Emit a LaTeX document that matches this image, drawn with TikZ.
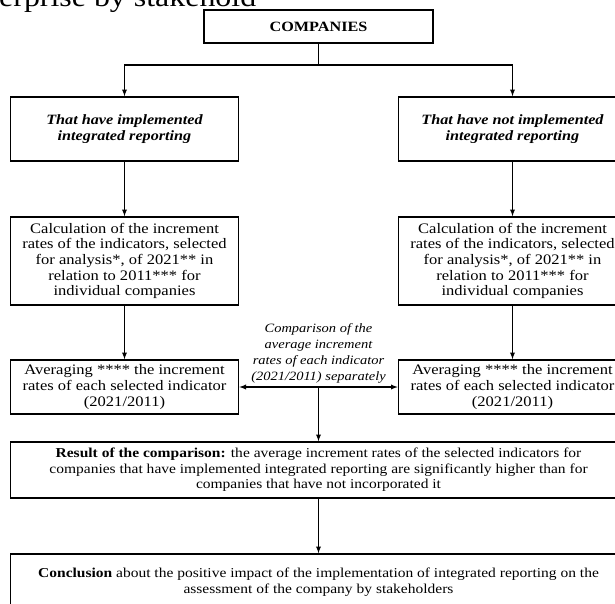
\documentclass[tikz,border=0pt]{standalone}
\usepackage{fontspec}
\setmainfont{Liberation Serif}[FakeStretch=1.14]
\usetikzlibrary{arrows}

\begin{document}
\begin{tikzpicture}[>=latex,x=1pt,y=-1pt,
    box/.style={draw,line width=1.6pt,inner sep=0pt,align=center,font=\fontsize{14.5}{15.6}\selectfont},
    colbox/.style={box,minimum width=228pt},
    widebox/.style={box,minimum width=616pt,minimum height=56pt,font=\fontsize{13.6}{15.6}\selectfont},
    link/.style={line width=1.3pt}]
          \useasboundingbox (0,0) rectangle (615,603);
          \node[anchor=base west,inner sep=0pt,font=\fontsize{28}{30}\selectfont] (cap) at (-1,6.5) {erprise by stakehold};
          \node[box,minimum width=229pt,minimum height=33pt,font=\fontsize{14.2}{16}\selectfont\bfseries] (comp) at (318.5,26.5) {COMPANIES};
          \node[colbox,minimum height=64pt,font=\fontsize{14.2}{16.5}\selectfont\bfseries\itshape] (impl) at (124.5,129) {That have implemented\\integrated reporting};
          \node[colbox,minimum height=64pt,font=\fontsize{14.2}{16.5}\selectfont\bfseries\itshape] (notimpl) at (512.5,129) {That have not implemented\\integrated reporting};
          \node[colbox,minimum height=88pt] (calcL) at (124.5,261) {Calculation of the increment\\rates of the indicators, selected\\for analysis*, of 2021** in\\relation to 2011*** for\\individual companies};
          \node[colbox,minimum height=88pt] (calcR) at (512.5,261) {Calculation of the increment\\rates of the indicators, selected\\for analysis*, of 2021** in\\relation to 2011*** for\\individual companies};
          \node[colbox,minimum height=54pt] (avgL) at (124.5,387) {Averaging **** the increment\\rates of each selected indicator\\(2021/2011)};
          \node[colbox,minimum height=54pt] (avgR) at (512.5,387) {Averaging **** the increment\\rates of each selected indicator\\(2021/2011)};
          \node[anchor=south,align=center,inner sep=0pt,font=\fontsize{12.7}{15.7}\selectfont\itshape] (cmp) at (318.5,383) {Comparison of the\\average increment\\rates of each indicator\\(2021/2011) separately};
          \node[widebox] (res) at (318.5,470) {\textbf{Result of the comparison:} the average increment rates of the selected indicators for\\companies that have implemented integrated reporting are significantly higher than for\\companies that have not incorporated it};
          \node[widebox] (concl) at (318.5,582) {\textbf{Conclusion} about the positive impact of the implementation of integrated reporting on the\\assessment of the company by stakeholders};
          \coordinate (split) at (318.5,65);
          \coordinate (mid) at (318.5,387);
          \draw[link] (comp) -- (split);
          \draw[link,->] (split) -| (impl);
          \draw[link,->] (split) -| (notimpl);
          \draw[link,->] (impl) -- (calcL);
          \draw[link,->] (notimpl) -- (calcR);
          \draw[link,->] (calcL) -- (avgL);
          \draw[link,->] (calcR) -- (avgR);
          \draw[link,<->] (avgL) -- (avgR);
          \draw[link,->] (mid) -- (res);
          \draw[link,->] (res) -- (concl);
        \end{tikzpicture}
\end{document}
